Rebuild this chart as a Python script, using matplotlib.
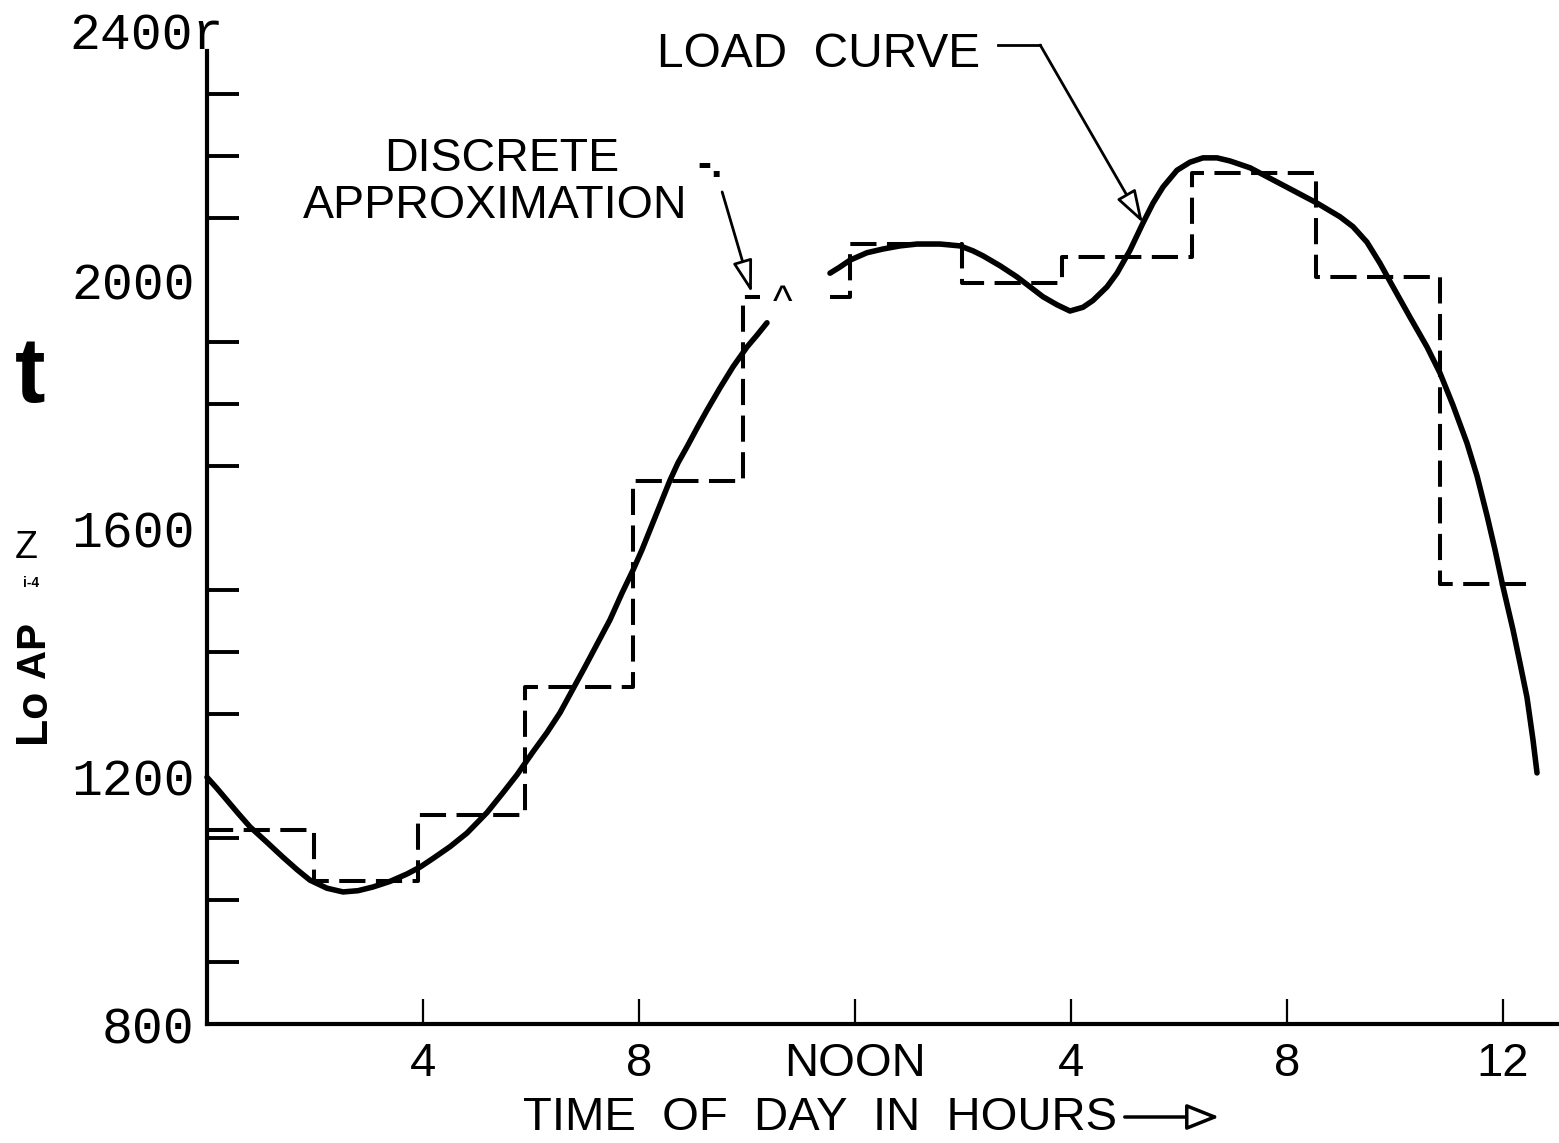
import numpy as np
import matplotlib
matplotlib.use("Agg")
import matplotlib.pyplot as plt
from matplotlib import font_manager

# ---------------- data ----------------
curve_hours = [0.000, 0.185, 0.370, 0.574, 0.796, 1.111, 1.407, 1.667, 1.907, 2.222,
               2.519, 2.796, 3.074, 3.389, 3.704, 3.944, 4.185, 4.500, 4.815, 5.185,
               5.481, 5.741, 6.037, 6.296, 6.537, 7.000, 7.463, 7.685, 7.889, 8.056,
               8.204, 8.389, 8.574, 8.722, 8.889, 9.074, 9.259, 9.500, 9.741, 10.000,
               10.185, 10.370,
               11.537, 11.722, 11.907, 12.222, 12.519, 12.833, 13.148, 13.574, 13.944,
               14.185, 14.370, 14.685, 15.000, 15.241, 15.481, 15.741, 15.981, 16.222,
               16.407, 16.667, 16.852, 17.093, 17.333, 17.519, 17.704, 17.963, 18.204,
               18.444, 18.704, 18.944, 19.315, 19.926, 20.556, 20.981, 21.222, 21.481,
               21.722, 21.963, 22.278, 22.593, 22.833, 23.074, 23.333, 23.519, 23.704,
               23.852, 24.000, 24.185, 24.315, 24.444, 24.556, 24.630]
curve_load = [1198, 1180, 1161, 1140, 1118, 1093, 1069, 1049, 1032, 1019,
              1013, 1015, 1021, 1030, 1042, 1053, 1067, 1086, 1108, 1141,
              1173, 1202, 1239, 1270, 1302, 1376, 1452, 1495, 1532, 1565,
              1597, 1637, 1677, 1705, 1731, 1761, 1790, 1826, 1860, 1892,
              1911, 1931,
              2011, 2021, 2032, 2044, 2050, 2055, 2058, 2058, 2055,
              2047, 2039, 2023, 2005, 1989, 1973, 1960, 1950, 1956,
              1967, 1989, 2011, 2048, 2092, 2124, 2150, 2177, 2190,
              2197, 2197, 2192, 2181, 2153, 2124, 2102, 2086, 2061,
              2027, 1989, 1940, 1892, 1850, 1798, 1737, 1684, 1620,
              1565, 1505, 1436, 1382, 1327, 1258, 1205]

step_edges = [0.0, 1.98, 3.91, 5.89, 7.89, 9.93, 11.91, 13.98, 15.83, 18.24, 20.54, 22.83, 24.5]
step_levels = [1113, 1031, 1137, 1344, 1676, 1973, 2058, 1995, 2037, 2173, 2005, 1510]

scan_gap = (10.24, 11.54)   # region blanked out in the original drawing

xtick_pos = [4, 8, 12, 16, 20, 24]
xtick_labels = ["4", "8", "NOON", "4", "8", "12"]
ytick_pos = [800, 1200, 1600, 2000]
ytick_labels = ["800", "1200", "1600", "2000"]
yminor_pos = list(range(900, 2400, 100))

# ---------------- fonts ----------------
avail = {f.name for f in font_manager.fontManager.ttflist}
narrow = "Liberation Sans Narrow" if "Liberation Sans Narrow" in avail else "Liberation Sans"
mono = "Liberation Mono"
sans = "Liberation Sans"

W, H = 1559, 1143
fig = plt.figure(figsize=(W / 100, H / 100), dpi=100)
fig.patch.set_facecolor("white")

y_bot, y_top = 1024, 32
ax = fig.add_axes([207 / W, (H - y_bot) / H, 1 - 207 / W, (y_bot - y_top) / H])
ax.set_xlim(0, (W - 207) / 54.0)
ax.set_ylim(800, 2400)


def break_at_gap(xs, ys, gap):
    """Insert NaN breaks where the drawing is blanked out."""
    ox, oy = [], []
    for i in range(len(xs)):
        if i > 0:
            x0, x1 = xs[i - 1], xs[i]
            if x0 <= gap[0] and x1 >= gap[1]:
                if ys[i - 1] == ys[i]:
                    ox += [gap[0], np.nan, gap[1]]
                    oy += [ys[i], np.nan, ys[i]]
                else:
                    ox.append(np.nan)
                    oy.append(np.nan)
        ox.append(xs[i])
        oy.append(ys[i])
    return ox, oy


# step polyline
sx, sy = [], []
for i, lev in enumerate(step_levels):
    sx += [step_edges[i], step_edges[i + 1]]
    sy += [lev, lev]
sx, sy = break_at_gap(sx, sy, scan_gap)
ax.plot(sx, sy, color="black", lw=2.9, dashes=(6.5, 2.6), solid_capstyle="butt",
        dash_capstyle="butt", clip_on=False, zorder=3)

cx, cy = break_at_gap(curve_hours, curve_load, (10.37, 11.537))
ax.plot(cx, cy, color="black", lw=4.0, solid_capstyle="round", solid_joinstyle="round",
        clip_on=False, zorder=4)

# ---------------- axes styling ----------------
for s in ["top", "right"]:
    ax.spines[s].set_visible(False)
ax.spines["left"].set_linewidth(3.0)
ax.spines["bottom"].set_linewidth(3.0)
ax.spines["left"].set_bounds(800, 2370)

ax.set_yticks(ytick_pos)
ax.set_yticklabels(ytick_labels, family=mono, fontsize=37)
ax.set_yticks(yminor_pos, minor=True)
ax.tick_params(axis="y", which="major", length=0, pad=9)
ax.tick_params(axis="y", which="minor", direction="in", length=23, width=2.8)

ax.set_xticks(xtick_pos)
ax.set_xticklabels(xtick_labels, family=narrow, fontsize=34)
ax.tick_params(axis="x", which="major", direction="in", length=18, width=1.6, pad=13)

ax.annotate("2400r", xy=(0, 2400), xycoords=("axes fraction", "data"),
            xytext=(17, -4), textcoords="offset pixels", ha="right", va="center",
            family=mono, fontsize=37, annotation_clip=False)

# ---------------- annotations ----------------
ax.text(8.33, 2363, "LOAD  CURVE", family=sans, fontsize=34.5, ha="left", va="center")
ax.plot([14.65, 15.43], [2379, 2379], color="black", lw=2.0, clip_on=False)
ax.annotate("", xy=(17.33, 2092), xytext=(15.43, 2379),
            arrowprops=dict(arrowstyle="-|>,head_length=2.0,head_width=0.65",
                            lw=2.0, color="black", fc="white", shrinkA=0, shrinkB=0))

ax.text(5.45, 2195, "DISCRETE", family=sans, fontsize=33.5, ha="center", va="center")
ax.text(5.33, 2119, "APPROXIMATION", family=sans, fontsize=33.5, ha="center", va="center")
ax.text(9.32, 2184, "-.", family=sans, fontsize=30, fontweight="bold", ha="center", va="center")
ax.annotate("", xy=(10.09, 1979), xytext=(9.54, 2142),
            arrowprops=dict(arrowstyle="-|>,head_length=2.0,head_width=0.6",
                            lw=2.0, color="black", fc="white", shrinkA=0, shrinkB=0))
ax.text(10.66, 1962, "^", family=sans, fontsize=30, ha="center", va="center")

# x-axis title and arrow
fig.text(523 / W, 1 - 1118 / H, "TIME  OF  DAY  IN  HOURS", family=narrow, fontsize=34,
         ha="left", va="center")
fig.add_artist(matplotlib.patches.FancyArrowPatch(
    (1122 / W, 1 - 1117 / H), (1222 / W, 1 - 1117 / H), transform=fig.transFigure,
    arrowstyle="-|>,head_length=20,head_width=8", lw=2.5, color="black", fc="white",
    mutation_scale=1))

# garbled y-axis label (as in the source scan)
fig.text(30 / W, 1 - 378 / H, "t", family=sans, fontweight="bold", fontsize=66,
         ha="center", va="center")
fig.text(34 / W, 1 - 716 / H, "Lo", family=sans, fontweight="bold", fontsize=32,
         rotation=90, ha="center", va="center")
fig.text(34 / W, 1 - 650 / H, "AP", family=sans, fontweight="bold", fontsize=29,
         rotation=90, ha="center", va="center")
fig.text(26 / W, 1 - 548 / H, "Z", family=sans, fontsize=27, ha="center", va="center")
fig.text(31 / W, 1 - 583 / H, "i-4", family=sans, fontsize=10, fontweight="bold",
         ha="center", va="center")

fig.savefig("out.png", dpi=100, facecolor="white")
